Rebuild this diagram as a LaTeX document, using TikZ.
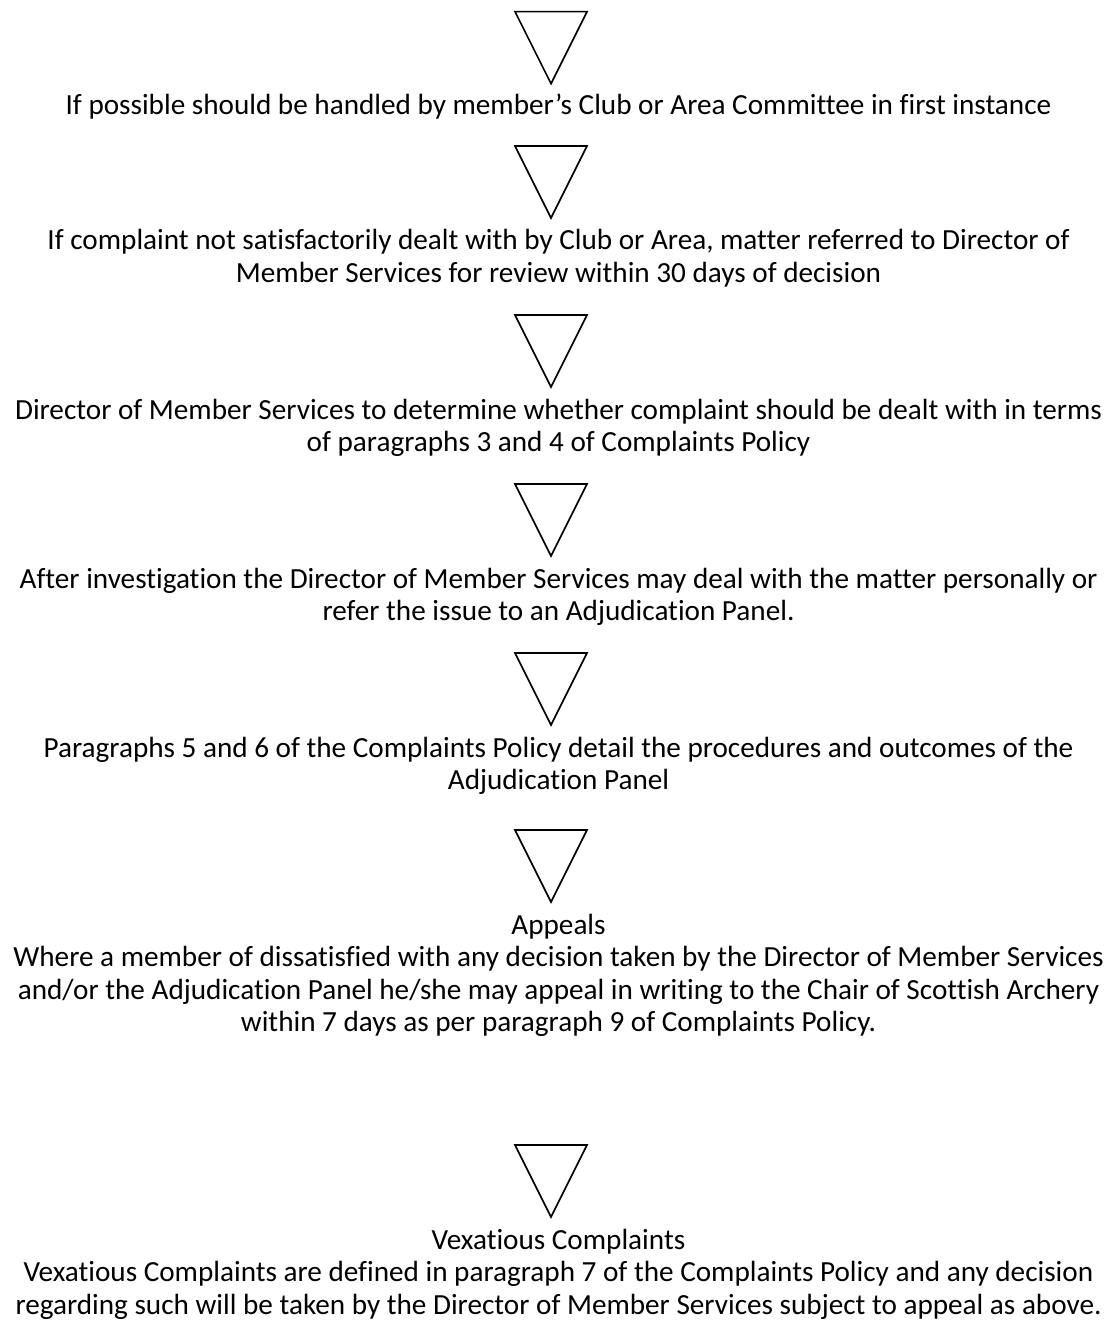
\documentclass[tikz,border=0pt]{standalone}
\usepackage{fontspec}
\setmainfont{Carlito}[Ligatures=NoCommon]
\begin{document}
\begin{tikzpicture}[x=1pt,y=-1pt,
  txt/.style={anchor=base,align=center,inner sep=0pt,font=\fontsize{29.2}{32.5}\selectfont},
  tri/.style={draw=black,line width=1.6pt,line join=miter}]
\useasboundingbox (0,0) rectangle (1117,1324);
% triangles (top y)
\foreach \t/\n in {11.7/1,146/2,315/3,484/4,653/5,830/6,1145/7}{
  \draw[tri] (515,\t) -- (587,\t) -- (551,\t+72) -- cycle;
}
% anchor=base refers to the last line's baseline
\node[txt] (t1) at (558.5,115) {If possible should be handled by member’s Club or Area Committee in first instance};
\node[txt] (t2) at (558.5,282.5) {If complaint not satisfactorily dealt with by Club or Area, matter referred to Director of\\Member Services for review within 30 days of decision};
\node[txt] (t3) at (558.5,451.5) {Director of Member Services to determine whether complaint should be dealt with in terms\\of paragraphs 3 and 4 of Complaints Policy};
\node[txt] (t4) at (558.5,620.5) {After investigation the Director of Member Services may deal with the matter personally or\\refer the issue to an Adjudication Panel.};
\node[txt] (t5) at (558.5,789.5) {Paragraphs 5 and 6 of the Complaints Policy detail the procedures and outcomes of the\\Adjudication Panel};
\node[txt] (t6) at (558.5,1031.5) {Appeals\\Where a member of dissatisfied with any decision taken by the Director of Member Services\\and/or the Adjudication Panel he/she may appeal in writing to the Chair of Scottish Archery\\within 7 days as per paragraph 9 of Complaints Policy.};
\node[txt] (t7) at (558.5,1314) {Vexatious Complaints\\Vexatious Complaints are defined in paragraph 7 of the Complaints Policy and any decision\\regarding such will be taken by the Director of Member Services subject to appeal as above.};
\end{tikzpicture}
\end{document}
